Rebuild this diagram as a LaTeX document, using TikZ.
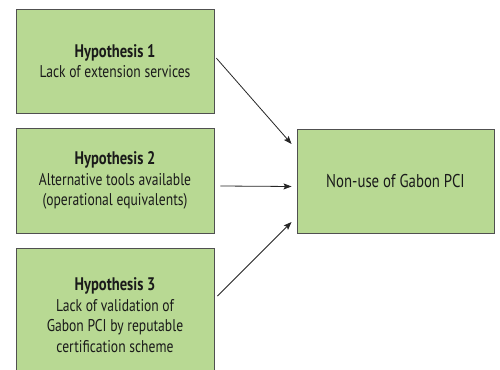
\documentclass[tikz,border=0pt]{standalone}
\usepackage{fontspec}
\setmainfont[FakeStretch=0.8]{PT Sans}
\usetikzlibrary{arrows.meta,calc}
\definecolor{boxfill}{HTML}{B8D993}
\definecolor{boxline}{HTML}{505050}
\definecolor{txt}{HTML}{1A1A1A}
\newcommand{\headtxt}[1]{{\fontsize{18.2}{20.5}\selectfont\bfseries #1}}
\tikzset{
  hbox/.style={draw=boxline, fill=boxfill, line width=0.9pt, minimum width=198pt,
    inner sep=0pt, align=center, text=txt, font=\fontsize{17}{20.5}\selectfont},
  conn/.style={draw=black!85, line width=0.8pt, -{Stealth[length=8pt,width=6pt,inset=1.5pt]}}
}
\begin{document}
\begin{tikzpicture}[x=1pt,y=1pt]
\clip (0,0) rectangle (500,369);
\fill[white] (0,0) rectangle (500,369);
\node[hbox, minimum height=103.5pt] (h1) at (115,307.75) {\headtxt{Hypothesis 1}\\Lack of extension services};
\node[hbox, minimum height=105pt] (h2) at (115,188.5) {\headtxt{Hypothesis 2}\\Alternative tools available\\(operational equivalents)};
\node[hbox, minimum height=134pt] (h3) at (115,54) {\headtxt{Hypothesis 3}\\Lack of validation of\\Gabon PCI by reputable\\certification scheme};
\node[hbox, minimum width=197pt, minimum height=104pt, font=\fontsize{18.5}{22}\selectfont] (out) at (395.5,188) {Non-use of Gabon PCI};
\draw[conn] ($(h1.east)+(2,3)$) -- ($(out.west)+(-5,37)$);
\draw[conn] ($(h2.east)+(6,-5.5)$) -- ($(out.west)+(-5,-5.5)$);
\draw[conn] ($(h3.east)+(3,19)$) -- ($(out.west)+(-5,-41)$);
\end{tikzpicture}
\end{document}
